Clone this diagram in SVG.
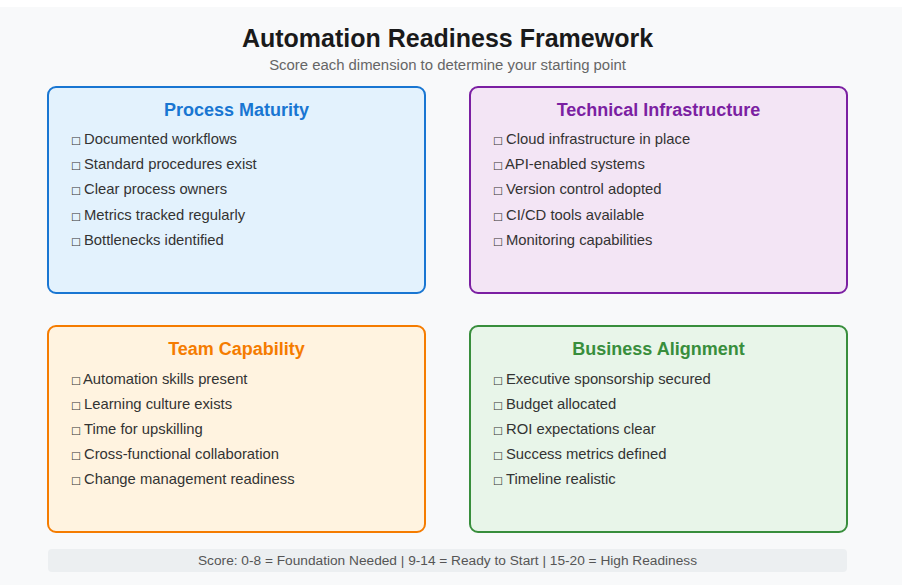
<svg xmlns="http://www.w3.org/2000/svg" width="902" height="585" viewBox="0 0 902 585">
<style>
.bg{fill:#f8f9fa}
.title{font-family:"Liberation Sans",Arial,sans-serif;font-size:25px;font-weight:bold;fill:#1a1a1a;text-anchor:middle}
.sub{font-family:"Liberation Sans",Arial,sans-serif;font-size:14.9px;fill:#666;text-anchor:middle}
.box{stroke-width:2}
.h{font-family:"Liberation Sans",Arial,sans-serif;font-size:18px;font-weight:bold;text-anchor:middle}
.it{font-family:"Liberation Sans",Arial,sans-serif;font-size:14.8px;fill:#333}
.cb{font-family:"DejaVu Sans",sans-serif;font-size:10.5px}
.foot{font-family:"Liberation Sans",Arial,sans-serif;font-size:13.7px;fill:#555;text-anchor:middle}
</style>
<rect class="bg" x="0" y="7" width="902" height="578"/>
<text class="title" x="447.5" y="47">Automation Readiness Framework</text>
<text class="sub" x="447.5" y="70">Score each dimension to determine your starting point</text>
<g id="process-maturity">
<rect class="box" x="48" y="87" width="377" height="206" rx="8" fill="#e3f2fd" stroke="#1976d2"/>
<text class="h" x="236.5" y="116" fill="#1976d2">Process Maturity</text>
<text class="it" x="71" y="144"><tspan class="cb">□</tspan><tspan x="84">Documented workflows</tspan></text>
<text class="it" x="71" y="169"><tspan class="cb">□</tspan><tspan x="84">Standard procedures exist</tspan></text>
<text class="it" x="71" y="194"><tspan class="cb">□</tspan><tspan x="84">Clear process owners</tspan></text>
<text class="it" x="71" y="220"><tspan class="cb">□</tspan><tspan x="84">Metrics tracked regularly</tspan></text>
<text class="it" x="71" y="245"><tspan class="cb">□</tspan><tspan x="84">Bottlenecks identified</tspan></text>
</g>
<g id="technical-infrastructure">
<rect class="box" x="470" y="87" width="377" height="206" rx="8" fill="#f3e5f5" stroke="#7b1fa2"/>
<text class="h" x="658.5" y="116" fill="#7b1fa2">Technical Infrastructure</text>
<text class="it" x="493" y="144"><tspan class="cb">□</tspan><tspan x="506">Cloud infrastructure in place</tspan></text>
<text class="it" x="493" y="169"><tspan class="cb">□</tspan><tspan x="505">API-enabled systems</tspan></text>
<text class="it" x="493" y="194"><tspan class="cb">□</tspan><tspan x="506">Version control adopted</tspan></text>
<text class="it" x="493" y="220"><tspan class="cb">□</tspan><tspan x="506">CI/CD tools available</tspan></text>
<text class="it" x="493" y="245"><tspan class="cb">□</tspan><tspan x="506">Monitoring capabilities</tspan></text>
</g>
<g id="team-capability">
<rect class="box" x="48" y="326" width="377" height="206" rx="8" fill="#fff3e0" stroke="#f57c00"/>
<text class="h" x="236.5" y="355" fill="#f57c00">Team Capability</text>
<text class="it" x="71" y="384"><tspan class="cb">□</tspan><tspan x="83">Automation skills present</tspan></text>
<text class="it" x="71" y="409"><tspan class="cb">□</tspan><tspan x="84">Learning culture exists</tspan></text>
<text class="it" x="71" y="434"><tspan class="cb">□</tspan><tspan x="84">Time for upskilling</tspan></text>
<text class="it" x="71" y="459"><tspan class="cb">□</tspan><tspan x="84">Cross-functional collaboration</tspan></text>
<text class="it" x="71" y="484"><tspan class="cb">□</tspan><tspan x="84">Change management readiness</tspan></text>
</g>
<g id="business-alignment">
<rect class="box" x="470" y="326" width="377" height="206" rx="8" fill="#e8f5e9" stroke="#388e3c"/>
<text class="h" x="658.5" y="355" fill="#388e3c">Business Alignment</text>
<text class="it" x="493" y="384"><tspan class="cb">□</tspan><tspan x="506">Executive sponsorship secured</tspan></text>
<text class="it" x="493" y="409"><tspan class="cb">□</tspan><tspan x="506">Budget allocated</tspan></text>
<text class="it" x="493" y="434"><tspan class="cb">□</tspan><tspan x="506">ROI expectations clear</tspan></text>
<text class="it" x="493" y="459"><tspan class="cb">□</tspan><tspan x="506">Success metrics defined</tspan></text>
<text class="it" x="493" y="484"><tspan class="cb">□</tspan><tspan x="506">Timeline realistic</tspan></text>
</g>
<g id="connectors"></g>
<g id="score-legend">
<rect x="48" y="549" width="799" height="23" rx="4" fill="#eceff1"/>
<text class="foot" x="447.5" y="565">Score: 0-8 = Foundation Needed | 9-14 = Ready to Start | 15-20 = High Readiness</text>
</g>
</svg>
